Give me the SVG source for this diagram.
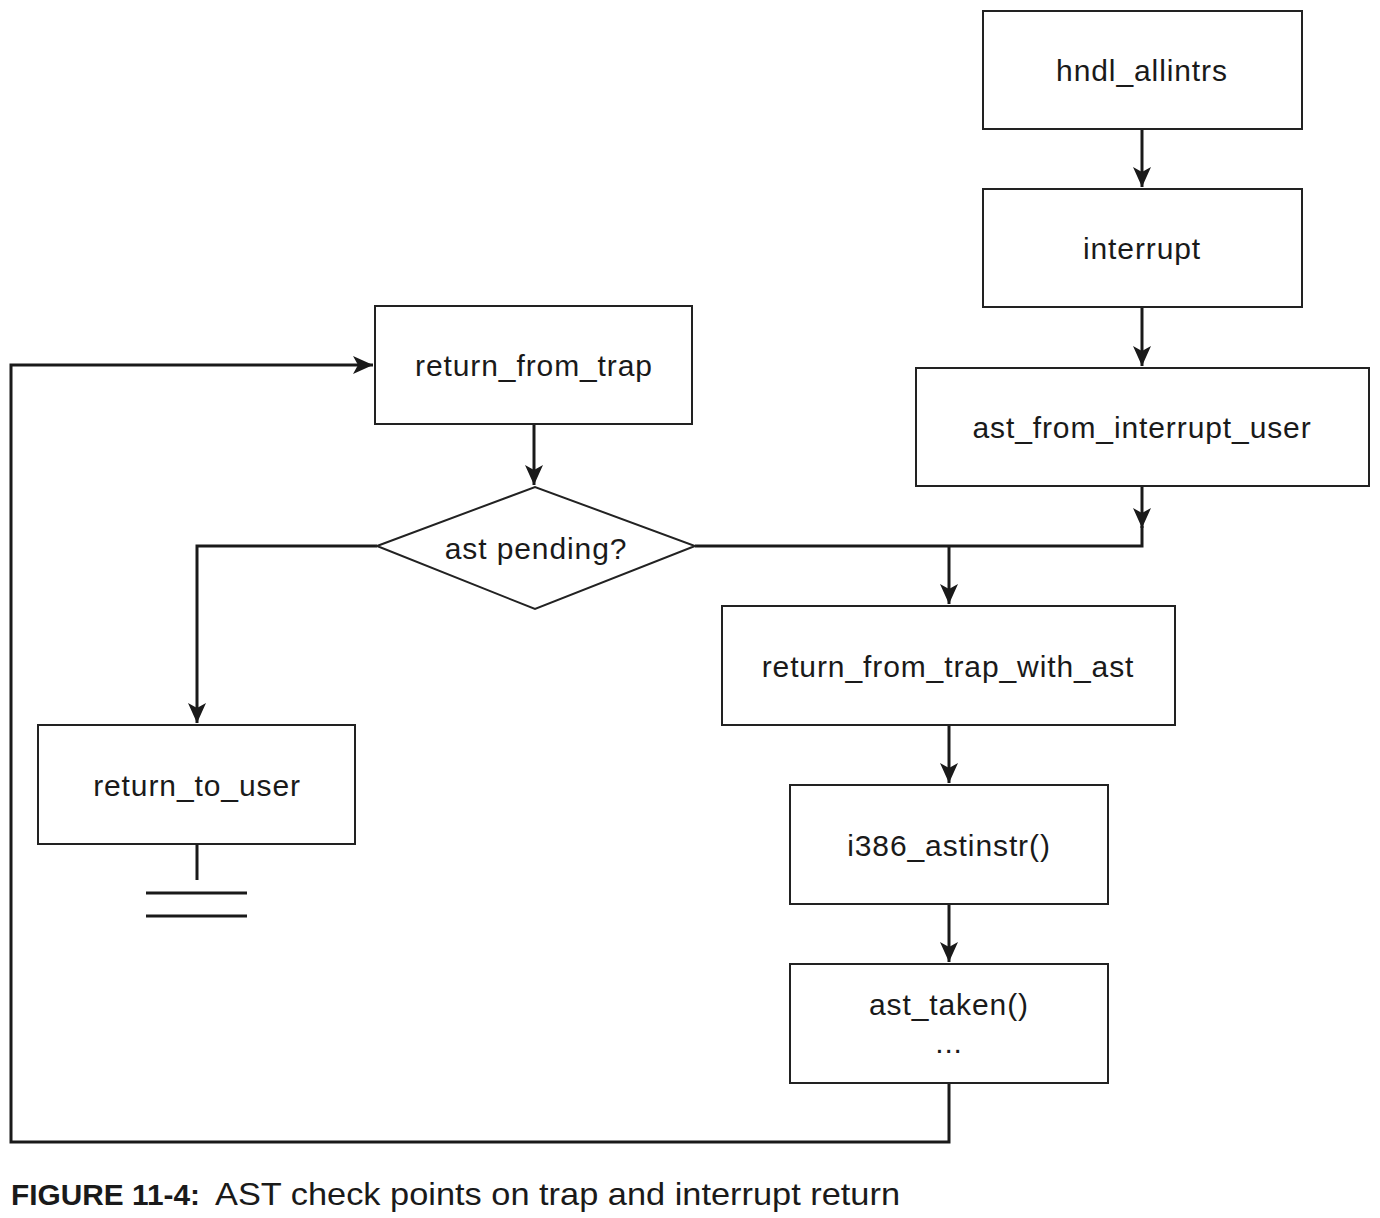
<svg xmlns="http://www.w3.org/2000/svg" width="1380" height="1218" viewBox="0 0 1380 1218">
<defs>
<style>
.box{fill:#fff;stroke:#222;stroke-width:2}
.lbl{font-family:"Liberation Sans",Arial,sans-serif;font-size:30px;fill:#1a1a1a;text-anchor:middle;letter-spacing:0.9px}
.con{fill:none;stroke:#1a1a1a;stroke-width:3}
.cap{font-family:"Liberation Sans",Arial,sans-serif;font-size:32px;fill:#1a1a1a}
</style>
<marker id="ah" viewBox="0 0 20 18" refX="20" refY="9" markerWidth="20" markerHeight="18" markerUnits="userSpaceOnUse" orient="auto">
<path d="M0,0 L20,9 L0,18 L5,9 Z" fill="#1a1a1a"/>
</marker>
</defs>
<rect width="1380" height="1218" fill="#fff"/>
<g id="connectors">
<path class="con" d="M1142,129 V187" marker-end="url(#ah)"/>
<path class="con" d="M1142,307 V366" marker-end="url(#ah)"/>
<path class="con" d="M534,424 V485" marker-end="url(#ah)"/>
<path class="con" d="M1142,486 V528" marker-end="url(#ah)"/>
<path class="con" d="M1142,526 V546 H695"/>
<path class="con" d="M949,546 V604" marker-end="url(#ah)"/>
<path class="con" d="M377,546 H197 V723" marker-end="url(#ah)"/>
<path class="con" d="M949,725 V783" marker-end="url(#ah)"/>
<path class="con" d="M949,904 V962" marker-end="url(#ah)"/>
<path class="con" d="M949,1083 V1142 H11 V365 H373" marker-end="url(#ah)"/>
</g>
<g id="hndl_allintrs"><rect class="box" x="983" y="11" width="319" height="118"/><text class="lbl" x="1142" y="81">hndl_allintrs</text></g>
<g id="interrupt"><rect class="box" x="983" y="189" width="319" height="118"/><text class="lbl" x="1142" y="259">interrupt</text></g>
<g id="ast_from_interrupt_user"><rect class="box" x="916" y="368" width="453" height="118"/><text class="lbl" x="1142" y="438">ast_from_interrupt_user</text></g>
<g id="return_from_trap"><rect class="box" x="375" y="306" width="317" height="118"/><text class="lbl" x="534" y="376">return_from_trap</text></g>
<g id="ast_pending"><polygon class="box" points="377,546 535,487 695,546 535,609"/><text class="lbl" x="536" y="559">ast pending?</text></g>
<g id="return_to_user"><rect class="box" x="38" y="725" width="317" height="119"/><text class="lbl" x="197" y="796">return_to_user</text>
<path class="con" d="M197,844 V880 M146,893 H247 M146,916 H247"/></g>
<g id="return_from_trap_with_ast"><rect class="box" x="722" y="606" width="453" height="119"/><text class="lbl" x="948" y="677">return_from_trap_with_ast</text></g>
<g id="i386_astinstr"><rect class="box" x="790" y="785" width="318" height="119"/><text class="lbl" x="949" y="856">i386_astinstr()</text></g>
<g id="ast_taken"><rect class="box" x="790" y="964" width="318" height="119"/><text class="lbl" x="949" y="1015">ast_taken()</text><text class="lbl" x="949" y="1053">...</text></g>
<text class="cap" x="11" y="1205"><tspan font-weight="bold" font-size="29" textLength="189" lengthAdjust="spacingAndGlyphs">FIGURE 11-4:</tspan><tspan x="215" textLength="685" lengthAdjust="spacingAndGlyphs">AST check points on trap and interrupt return</tspan></text>
</svg>
